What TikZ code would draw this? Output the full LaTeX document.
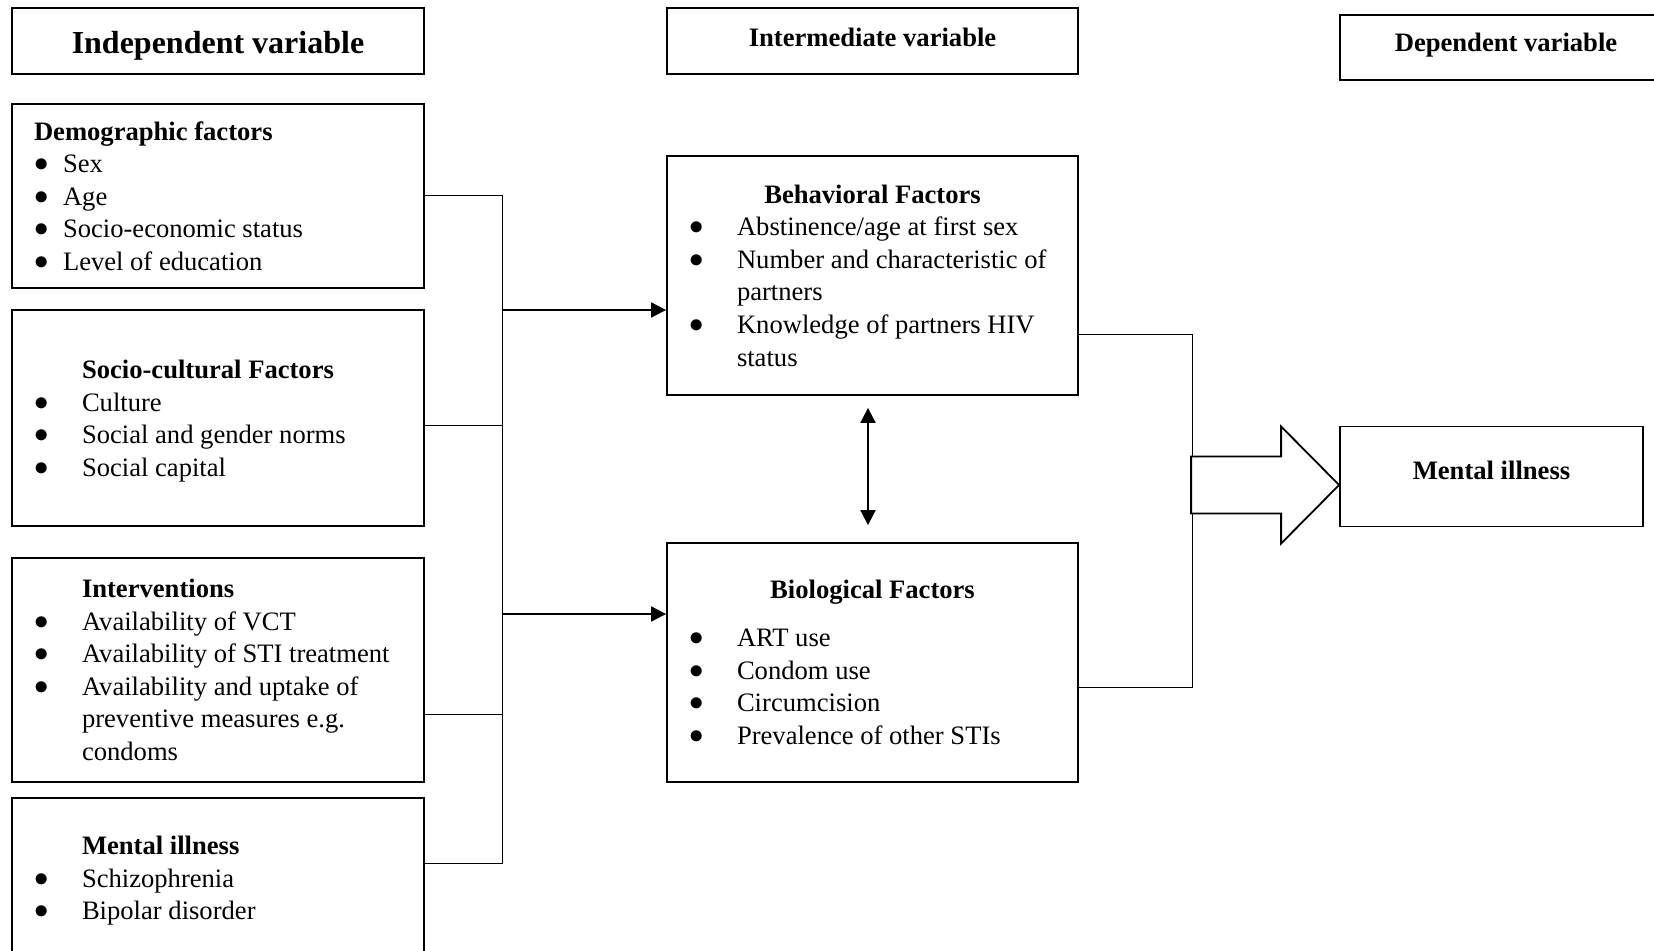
\documentclass[tikz,border=0pt]{standalone}
\usepackage{fontspec}
\setmainfont{Liberation Serif}
\usepackage{tikz}
\usetikzlibrary{calc}
\usetikzlibrary{arrows.meta}

\DeclareRobustCommand{\bodyfont}{\fontsize{13.3}{16.3}\selectfont}
\newcommand{\bitem}[2][24pt]{\makebox[#1][l]{\raisebox{0.5pt}[0pt][0pt]{$\bullet$}}#2}
\newcommand{\bcont}[1]{\hspace*{24pt}#1}

\tikzset{
  box/.style = {draw = black, line width = 0.9pt, inner xsep = 11pt, inner ysep = 0pt,
                align = flush left, font = \bodyfont},
  hdr/.style = {draw = black, line width = 0.9pt, inner sep = 0pt,
                font = \bfseries\fontsize{13.3}{16}\selectfont},
  conn/.style = {line width = 0.5pt},
  arr/.style = {line width = 0.9pt, -{Triangle[length=7.5pt,width=7.5pt]}},
}

\begin{document}
\begin{tikzpicture}[x=0.5pt, y=-0.5pt]
\useasboundingbox (0,0) rectangle (1654,951);

% column headings
\draw (218,41) node[name = indep, hdr, minimum width = 206pt, minimum height = 33pt,
      text height = 16pt, text depth = 3.5pt,
      font = \bfseries\fontsize{16}{19}\selectfont]{Independent variable};
\draw (872.5,41) node[name = inter, hdr, minimum width = 205.5pt, minimum height = 33pt,
      text depth = 3.8pt]{Intermediate variable};
\draw (1506,47.5) node[name = dep, hdr, minimum width = 166pt, minimum height = 32.5pt,
      text depth = 4.8pt]{Dependent variable};

% independent variables
\draw (218,196) node[name = demo, box, text width = 184pt, minimum height = 92pt]{%
\textbf{Demographic factors}\\
\bitem[14.5pt]{Sex}\\
\bitem[14.5pt]{Age}\\
\bitem[14.5pt]{Socio-economic status}\\
\bitem[14.5pt]{Level of education}};
\draw (218,418) node[name = socio, box, text width = 184pt, minimum height = 108pt]{%
\rule{0pt}{12.3pt}\bcont{\textbf{Socio-cultural Factors}}\\
\bitem{Culture}\\
\bitem{Social and gender norms}\\
\bitem{Social capital}};
\draw (218,670) node[name = interv, box, text width = 184pt, minimum height = 112pt]{%
\bcont{\textbf{Interventions}}\\
\bitem{Availability of VCT}\\
\bitem{Availability of STI treatment}\\
\bitem{Availability and uptake of}\\
\bcont{preventive measures e.g.}\\
\bcont{condoms}};
\draw (218,881) node[name = mentl, box, text width = 184pt, minimum height = 83pt]{%
\bcont{\textbf{Mental illness}}\\
\bitem{Schizophrenia}\\
\bitem{Bipolar disorder}};

% intermediate variables
\draw (872.5,275.5) node[name = behav, box, text width = 183.5pt, minimum height = 119.5pt]{%
\makebox[\linewidth]{\textbf{Behavioral Factors}}\\
\bitem{Abstinence/age at first sex}\\
\bitem{Number and characteristic of}\\
\bcont{partners}\\
\bitem{Knowledge of partners HIV}\\
\bcont{status}};
\draw (872.5,662.5) node[name = bio, box, text width = 183.5pt, minimum height = 119.5pt]{%
\makebox[\linewidth]{\textbf{Biological Factors}}\\[7.5pt]
\bitem{ART use}\\
\bitem{Condom use}\\
\bitem{Circumcision}\\
\bitem{Prevalence of other STIs}};

% dependent variable
\draw (1491.5,476.5) node[name = mentr, hdr, minimum width = 151.5pt, minimum height = 50pt,
      text depth = 5.8pt]{Mental illness};

% left bracket
\coordinate (spine) at (502,0);
\coordinate (d1) at (demo.east);
\coordinate (d2) at ([yshift=-4pt]socio.east);
\coordinate (d3) at ([yshift=-22pt]interv.east);
\coordinate (d4) at ([yshift=9pt]mentl.east);
\draw[conn] (d1) -- (d1 -| spine) -- (d4 -| spine) -- (d4);
\draw[conn] (d2) -- (d2 -| spine);
\draw[conn] (d3) -- (d3 -| spine);

\coordinate (a1) at ([yshift=-17.25pt]behav.west);
\coordinate (a2) at ([yshift=24.25pt]bio.west);
\draw[arr] (a1 -| spine) -- (a1);
\draw[arr] (a2 -| spine) -- (a2);

\draw[line width = 0.9pt, {Triangle[length=7.5pt,width=7.5pt]}-{Triangle[length=7.5pt,width=7.5pt]}]
  ([xshift=-2.25pt,yshift=-6pt]behav.south) -- ([xshift=-2.25pt,yshift=8.5pt]bio.north);

% right bracket
\coordinate (rspine) at (1192,0);
\coordinate (e1) at ([yshift=-29.75pt]behav.east);
\coordinate (e2) at ([yshift=-12.5pt]bio.east);
\draw[conn] (e1) -- (e1 -| rspine) -- (e2 -| rspine) -- (e2);

% block arrow
\coordinate (tip) at ([yshift=-4.25pt]mentr.west);
\draw[line width = 0.9pt, fill = white] (tip) -- ++(-58,-58.5) -- ++(0,30) -- ++(-90,0)
  -- ++(0,57) -- ++(90,0) -- ++(0,30) -- cycle;

\end{tikzpicture}
\end{document}
